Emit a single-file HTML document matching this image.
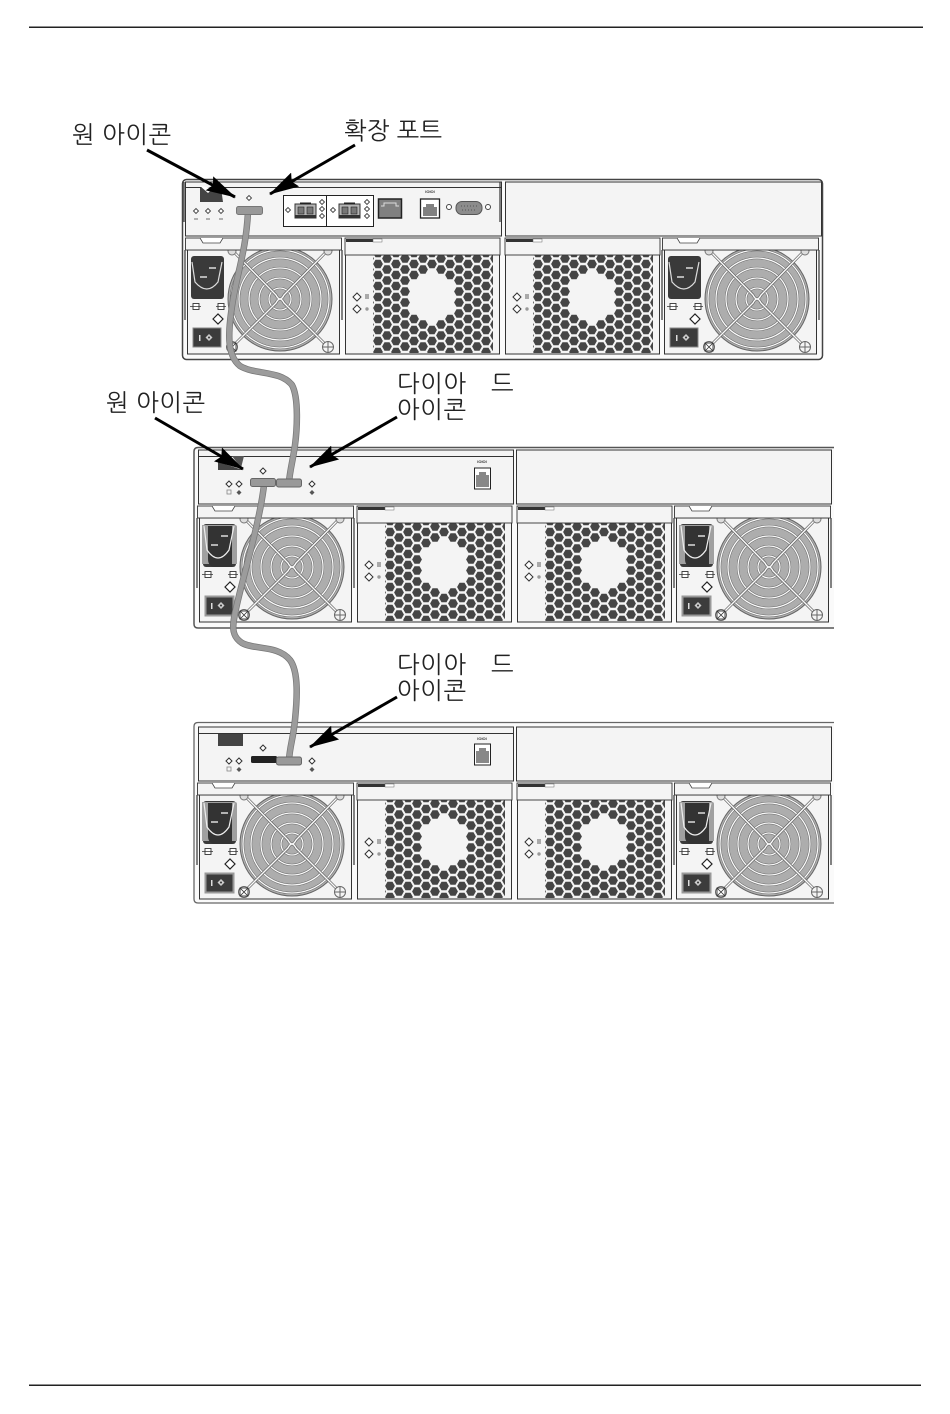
<!DOCTYPE html>
<html><head><meta charset="utf-8">
<style>
html,body{margin:0;padding:0;background:#fff;width:950px;height:1414px;overflow:hidden}
svg{display:block}
text.k{font-family:"Liberation Sans","NanumGothic","Noto Sans CJK KR",sans-serif;font-size:24px;fill:#222}
text.t{font-family:"Liberation Sans",sans-serif;font-size:4px;font-weight:bold;fill:#333;text-anchor:middle}
</style></head><body>
<svg width="950" height="1414" viewBox="0 0 950 1414" xmlns="http://www.w3.org/2000/svg">
<defs>
<polygon id="hx" points="-4.900,0 -2.500,-4.300 2.500,-4.300 4.900,0 2.500,4.300 -2.500,4.300"/>
<pattern id="hp" patternUnits="userSpaceOnUse" x="0" y="0" width="18" height="11">
<g fill="#454545"><use href="#hx" x="0" y="0"/><use href="#hx" x="18" y="0"/><use href="#hx" x="0" y="11"/><use href="#hx" x="18" y="11"/><use href="#hx" x="9" y="5.500"/></g>
</pattern>
<marker id="ah" markerUnits="userSpaceOnUse" viewBox="0 0 30 16" refX="29" refY="8" markerWidth="30" markerHeight="16" orient="auto"><path d="M0 0L30 8L0 16L4 8Z" fill="#000"/></marker>
<polygon id="d" points="-3,0 0,-3 3,0 0,3" fill="#fff" stroke="#333" stroke-width="1"/>
<polygon id="dm" points="-4,0 0,-4 4,0 0,4" fill="#fff" stroke="#333" stroke-width="1"/>
<polygon id="ds" points="-2.500,0 0,-2.500 2.500,0 0,2.500" fill="#fff" stroke="#444" stroke-width=".9"/>
<polygon id="dl" points="-5,0 0,-5 5,0 0,5" fill="#fff" stroke="#222" stroke-width="1.200"/>
<g id="fan">
<rect x="345.500" y="254" width="154" height="100" fill="#f4f4f4" stroke="#333" stroke-width="1"/>
<g transform="translate(432,297)">
<rect x="-59" y="-42" width="120" height="98" fill="url(#hp)"/>
<g fill="#f4f4f4" stroke="#f4f4f4" stroke-width="2">
<use href="#hx" x="0" y="0"/><use href="#hx" x="0" y="11"/><use href="#hx" x="0" y="-11"/><use href="#hx" x="0" y="22"/><use href="#hx" x="0" y="-22"/>
<use href="#hx" x="9" y="5.500"/><use href="#hx" x="9" y="-5.500"/><use href="#hx" x="9" y="16.500"/><use href="#hx" x="9" y="-16.500"/>
<use href="#hx" x="-9" y="5.500"/><use href="#hx" x="-9" y="-5.500"/><use href="#hx" x="-9" y="16.500"/><use href="#hx" x="-9" y="-16.500"/>
<use href="#hx" x="18" y="0"/><use href="#hx" x="18" y="11"/><use href="#hx" x="18" y="-11"/>
<use href="#hx" x="-18" y="0"/><use href="#hx" x="-18" y="11"/><use href="#hx" x="-18" y="-11"/>
</g></g>
<rect x="345" y="238" width="155" height="17" fill="#f4f4f4" stroke="#333" stroke-width=".9"/>
<rect x="346" y="239" width="27" height="3" fill="#333"/><rect x="373" y="239" width="9" height="3" fill="#fff" stroke="#666" stroke-width=".5"/>
<use href="#dm" x="357" y="297"/><use href="#dm" x="357" y="309"/>
<rect x="365" y="294" width="4" height="5" fill="#aaa"/><circle cx="367" cy="309" r="1.700" fill="#999"/>
</g>
<g id="psu">
<rect x="187.500" y="250" width="152" height="104" fill="#f4f4f4" stroke="#333" stroke-width="1"/>
<path d="M342 250v70M185 250v70" stroke="#333" stroke-width="1.200"/>
<circle cx="280" cy="299" r="52" fill="#adadad" stroke="#666" stroke-width="1"/>
<g fill="none" stroke="#666" stroke-width="2.300"><circle cx="280" cy="299" r="49"/><circle cx="280" cy="299" r="41"/><circle cx="280" cy="299" r="31"/><circle cx="280" cy="299" r="21"/><circle cx="280" cy="299" r="11"/></g>
<g fill="none" stroke="#fafafa" stroke-width="1.300"><circle cx="280" cy="299" r="49"/><circle cx="280" cy="299" r="41"/><circle cx="280" cy="299" r="31"/><circle cx="280" cy="299" r="21"/><circle cx="280" cy="299" r="11"/></g>
<path d="M232 250L276 295Q280 303 284 295L328 250M232 347L276 303Q280 295 284 303L328 347" fill="none" stroke="#666" stroke-width="2.800"/>
<path d="M232 250L276 295Q280 303 284 295L328 250M232 347L276 303Q280 295 284 303L328 347" fill="none" stroke="#fafafa" stroke-width="1.400"/>
<circle cx="232" cy="347" r="5.500" fill="#f4f4f4" stroke="#666"/><rect x="228" y="343" width="8" height="8" fill="#fff" stroke="#333" stroke-width=".9"/><path d="M228 343l8 8M236 343l-8 8" stroke="#333" stroke-width=".8"/>
<circle cx="328" cy="347" r="5.500" fill="#f4f4f4" stroke="#666"/><path d="M322.500 347h11M328 341.500v11" stroke="#666"/>
<circle cx="232" cy="251" r="4" fill="#ddd" stroke="#777"/><circle cx="328" cy="251" r="4" fill="#ddd" stroke="#777"/>
<rect x="191" y="256" width="33" height="43" rx="3" fill="#3a3a3a"/>
<path d="M192 262L195 282Q207 296 218 282L222 262" fill="none" stroke="#ddd" stroke-width="1.200"/>
<path d="M209 268h7M200 277h7" stroke="#ddd" stroke-width="1.500"/>
<rect x="193" y="303.500" width="6" height="6" fill="#fff" stroke="#333" stroke-width=".9"/><rect x="218" y="303.500" width="6" height="6" fill="#fff" stroke="#333" stroke-width=".9"/>
<path d="M190 306.500h11M216 306.500h10" stroke="#333" stroke-width=".7"/>
<use href="#dl" x="218" y="319"/>
<rect x="193" y="328" width="28" height="19" fill="#3c3c3c" stroke="#888" stroke-width="1"/>
<rect x="199" y="335" width="1.500" height="6" fill="#ddd"/><polygon points="209,334 212.500,337.500 209,341 205.500,337.500" fill="#ccc"/><circle cx="209" cy="337.500" r="1" fill="#333"/>
<rect x="185.500" y="238" width="156" height="12" fill="#f4f4f4" stroke="#333" stroke-width=".9"/>
<path d="M200 238l3 5h17l3-5" fill="#fff" stroke="#444" stroke-width=".8"/>
</g>
<g id="og">
<path d="M202 257h33a2 2 0 0 1 2 2v37h-35z" fill="#a0a0a0" transform="translate(0,268)"/>
<path d="M208 526h24v41h-16q-8 0-8-8z" fill="#333"/>
<path d="M204 526L207 550Q218 566 229 550L234 526" fill="none" stroke="#eee" stroke-width="1.200"/>
<path d="M221 536h7M211 545h7" stroke="#ddd" stroke-width="1.500"/>
</g>
<g id="sw"><rect x="205.500" y="596.500" width="28" height="19" fill="none" stroke="#999" stroke-width="2"/></g>
<g id="sfp"><rect x="0" y="0" width="21" height="14" fill="#b5b5b5" stroke="#333"/><rect x="5" y="-1.500" width="11" height="2" fill="#222"/><rect x="3" y="3" width="6" height="7" fill="#777" stroke="#222" stroke-width=".6"/><rect x="12" y="3" width="6" height="7" fill="#777" stroke="#222" stroke-width=".6"/><rect x="0" y="11" width="21" height="3" fill="#333"/></g>
</defs>

<rect width="950" height="1414" fill="#fff"/>
<path d="M29 27.300H923" stroke="#222" stroke-width="1.500"/>
<path d="M29 1385.300H921" stroke="#222" stroke-width="1.500"/>

<!-- Chassis 1 -->
<rect x="182.500" y="179.500" width="640" height="180" rx="4" fill="#fafafa" stroke="#444" stroke-width="1.500"/>
<rect x="185.500" y="182" width="316" height="54" fill="#f4f4f4" stroke="#333" stroke-width="1"/>
<path d="M185 187.500H501" stroke="#333" stroke-width="1"/>
<path d="M184 182v40M500 182v40" stroke="#333" stroke-width="1.200"/>
<rect x="505.500" y="182" width="316" height="54" fill="#f4f4f4" stroke="#333" stroke-width="1"/>
<path d="M200 188h21l2 14h-23z" fill="#444"/>
<path d="M200 186l14 2-6 5z" fill="#fff"/>
<use href="#ds" x="249" y="198"/><use href="#ds" x="196" y="211"/><use href="#ds" x="208" y="211"/><use href="#ds" x="221" y="211"/>
<path d="M194 219h4M206 219h4M219 219h4" stroke="#999" stroke-width="1.500"/>
<rect x="283.500" y="195.500" width="90" height="31" fill="#fff" stroke="#222" stroke-width="1"/>
<path d="M326.500 195v31" stroke="#222"/>
<use href="#sfp" x="295" y="204"/><use href="#sfp" x="339" y="204"/>
<use href="#ds" x="288" y="210"/><use href="#ds" x="333" y="210"/>
<use href="#ds" x="322" y="202"/><use href="#ds" x="322" y="209"/><use href="#ds" x="322" y="216"/>
<use href="#ds" x="367" y="202"/><use href="#ds" x="367" y="209"/><use href="#ds" x="367" y="216"/>
<rect x="378.500" y="199" width="23" height="19" fill="#808080" stroke="#222" stroke-width="1.500"/>
<path d="M381 206h3v-3h12v3h3" fill="none" stroke="#ddd" stroke-width="1"/>
<text class="t" x="430" y="193">IOIOI</text>
<rect x="420.500" y="199" width="19" height="19" fill="#fff" stroke="#222" stroke-width="1.300"/>
<path d="M423 216v-9h3v-3h8v3h3v9z" fill="#808080"/>
<circle cx="449" cy="207" r="2.500" fill="#fff" stroke="#444"/><circle cx="488" cy="207" r="2.500" fill="#fff" stroke="#444"/>
<rect x="456" y="201.500" width="26" height="13" rx="6" fill="#8c8c8c" stroke="#555"/>
<path d="M461 206h16M462 210h14" stroke="#555" stroke-width="1" stroke-dasharray="1 2"/>
<use href="#fan"/><use href="#fan" transform="translate(160,0)"/>
<use href="#psu"/><use href="#psu" transform="translate(477,0)"/>

<!-- Chassis 2 -->
<path d="M834 447.500H198q-4 0-4 4V624q0 4 4 4H834" fill="#fafafa" stroke="#555" stroke-width="1.500"/>
<rect x="198.500" y="450" width="315" height="54" fill="#f4f4f4" stroke="#333" stroke-width="1"/>
<path d="M198 456.500H513" stroke="#333" stroke-width="1"/>
<rect x="516.500" y="450" width="315" height="54" fill="#f4f4f4" stroke="#333" stroke-width="1"/>
<path d="M218 462l25 8h-25z" fill="#444"/><path d="M232 456h12l-3 12z" fill="#555"/>
<use href="#d" x="263" y="471"/><use href="#d" x="229" y="484"/><use href="#d" x="239" y="484"/><use href="#d" x="312" y="484"/>
<rect x="227" y="490" width="4" height="4" fill="none" stroke="#888" stroke-width=".8"/>
<polygon points="239,490 241.500,492.500 239,495 236.500,492.500" fill="#555"/><polygon points="312,490 314.500,492.500 312,495 309.500,492.500" fill="#555"/>
<text class="t" x="482" y="463">IOIOI</text>
<rect x="474.500" y="468" width="16" height="21" fill="#fff" stroke="#222" stroke-width="1"/>
<path d="M476 487v-12h3v-3h7v3h3v12z" fill="#888"/>
<use href="#fan" transform="translate(12,268)"/><use href="#fan" transform="translate(172,268)"/>
<use href="#psu" transform="translate(12,268)"/><use href="#psu" transform="translate(489,268)"/>
<use href="#og"/><use href="#og" transform="translate(477,0)"/><use href="#sw"/><use href="#sw" transform="translate(477,0)"/>

<!-- Chassis 3 -->
<path d="M834 722.500H198q-4 0-4 4V899q0 4 4 4H834" fill="#fafafa" stroke="#666" stroke-width="1.300"/>
<rect x="198.500" y="727" width="315" height="54" fill="#f4f4f4" stroke="#333" stroke-width="1"/>
<path d="M198 733.500H513" stroke="#333" stroke-width="1"/>
<rect x="516.500" y="727" width="315" height="54" fill="#f4f4f4" stroke="#333" stroke-width="1"/>
<path d="M218 734h25v12h-25z" fill="#444"/>
<use href="#d" x="263" y="748"/><use href="#d" x="229" y="761"/><use href="#d" x="239" y="761"/><use href="#d" x="312" y="761"/>
<rect x="227" y="767" width="4" height="4" fill="none" stroke="#888" stroke-width=".8"/>
<polygon points="239,767 241.500,769.500 239,772 236.500,769.500" fill="#555"/><polygon points="312,767 314.500,769.500 312,772 309.500,769.500" fill="#555"/>
<text class="t" x="482" y="740">IOIOI</text>
<rect x="474.500" y="744" width="16" height="21" fill="#fff" stroke="#222" stroke-width="1"/>
<path d="M476 763v-12h3v-3h7v3h3v12z" fill="#888"/>
<rect x="251" y="756" width="26" height="7" rx="1.500" fill="#222"/>
<use href="#fan" transform="translate(12,545)"/><use href="#fan" transform="translate(172,545)"/>
<use href="#psu" transform="translate(12,545)"/><use href="#psu" transform="translate(489,545)"/>
<use href="#og" transform="translate(0,277)"/><use href="#og" transform="translate(477,277)"/><use href="#sw" transform="translate(0,277)"/><use href="#sw" transform="translate(477,277)"/>

<!-- Cables -->
<g fill="none">
<path d="M248 212C246 250 238 270 233 300C228 330 226 355 240 366C255 375 280 370 292 385C299 398 297 430 295 445C293 460 290 470 289 482" stroke="#777" stroke-width="6.500"/>
<path d="M248 212C246 250 238 270 233 300C228 330 226 355 240 366C255 375 280 370 292 385C299 398 297 430 295 445C293 460 290 470 289 482" stroke="#9c9c9c" stroke-width="5"/>
<path d="M264 485C260 520 245 570 238 600C232 625 230 635 242 643C255 650 278 645 290 660C299 672 297 700 295 720C293 740 290 745 289 760" stroke="#777" stroke-width="6.500"/>
<path d="M264 485C260 520 245 570 238 600C232 625 230 635 242 643C255 650 278 645 290 660C299 672 297 700 295 720C293 740 290 745 289 760" stroke="#9c9c9c" stroke-width="5"/>
</g>
<rect x="236.500" y="206.500" width="26" height="8" rx="2" fill="#999" stroke="#777"/>
<rect x="250.500" y="478.500" width="25" height="8" rx="2" fill="#999" stroke="#666"/>
<rect x="276.500" y="479" width="25" height="8" rx="2" fill="#999" stroke="#666"/>
<rect x="276.500" y="757" width="25" height="8" rx="2" fill="#999" stroke="#666"/>

<!-- Arrows -->
<g stroke="#000" stroke-width="3" fill="none">
<path d="M147 150L235 197" marker-end="url(#ah)"/>
<path d="M355 145L270 194" marker-end="url(#ah)"/>
<path d="M155 418L243 469" marker-end="url(#ah)"/>
<path d="M397 417L310 467" marker-end="url(#ah)"/>
<path d="M397 697L310 747" marker-end="url(#ah)"/>
</g>

<!-- Labels -->
<text class="k" x="72" y="143" textLength="99" lengthAdjust="spacing">원 아이콘</text>
<text class="k" x="344" y="139" textLength="98" lengthAdjust="spacing">확장 포트</text>
<text class="k" x="106" y="411" textLength="99" lengthAdjust="spacing">원 아이콘</text>
<text class="k" x="397" y="392" textLength="69" lengthAdjust="spacing">다이아</text>
<text class="k" x="491" y="392">드</text>
<text class="k" x="397" y="418" textLength="69" lengthAdjust="spacing">아이콘</text>
<text class="k" x="397" y="673" textLength="69" lengthAdjust="spacing">다이아</text>
<text class="k" x="491" y="673">드</text>
<text class="k" x="397" y="699" textLength="69" lengthAdjust="spacing">아이콘</text>
</svg>
</body></html>
